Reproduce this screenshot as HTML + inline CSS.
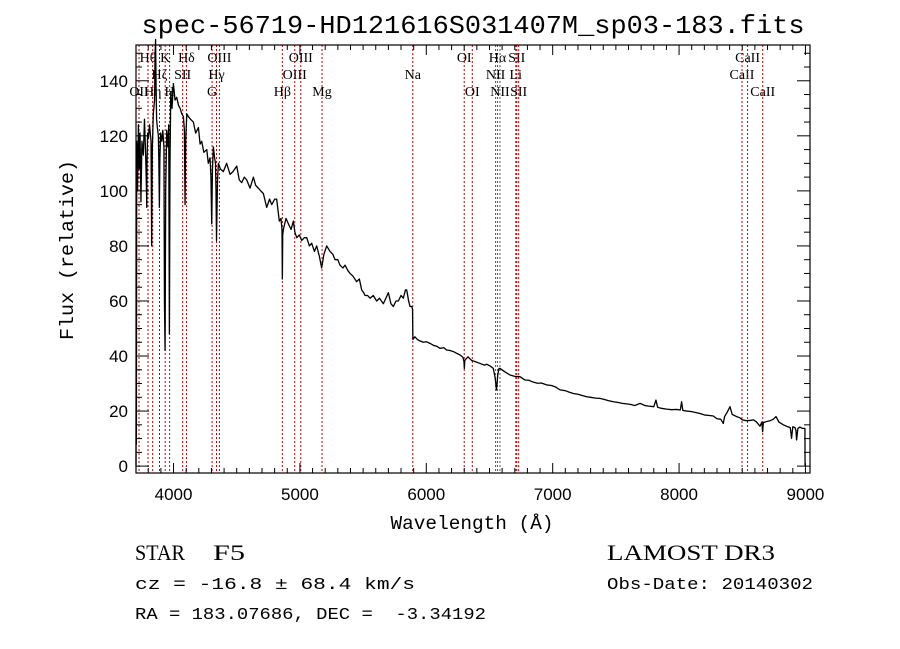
<!DOCTYPE html>
<html><head><meta charset="utf-8"><style>
body{margin:0;background:#fff;}
svg{display:block;font-family:"Liberation Sans",sans-serif;}
text{white-space:pre;}
</style></head><body>
<svg id="chart" width="900" height="649" viewBox="0 0 900 649" xmlns="http://www.w3.org/2000/svg">
<rect width="900" height="649" fill="#fff"/>
<text x="473" y="33" font-family="Liberation Mono, monospace" font-size="26" text-anchor="middle" textLength="663" lengthAdjust="spacingAndGlyphs">spec-56719-HD121616S031407M_sp03-183.fits</text>
<g id="lines"></g>
<g id="spec"></g>
<g id="axes"></g>
<text x="472" y="529" font-family="Liberation Mono, monospace" font-size="19" text-anchor="middle" textLength="163" lengthAdjust="spacingAndGlyphs">Wavelength (Å)</text>
<text transform="translate(73,250) rotate(-90)" font-family="Liberation Mono, monospace" font-size="19" text-anchor="middle" textLength="180" lengthAdjust="spacingAndGlyphs">Flux (relative)</text>
<g font-family="Liberation Serif, serif" font-size="22">
<text x="135" y="560" textLength="50" lengthAdjust="spacingAndGlyphs">STAR</text>
<text x="213" y="560" textLength="32" lengthAdjust="spacingAndGlyphs">F5</text>
<text x="607" y="560" textLength="168" lengthAdjust="spacingAndGlyphs">LAMOST DR3</text>
</g>
<g font-family="Liberation Mono, monospace" font-size="17">
<text x="135" y="589" textLength="280" lengthAdjust="spacingAndGlyphs">cz = -16.8 ± 68.4 km/s</text>
<text x="135" y="619" textLength="351" lengthAdjust="spacingAndGlyphs">RA = 183.07686, DEC =  -3.34192</text>
<text x="607" y="589" textLength="206" lengthAdjust="spacingAndGlyphs">Obs-Date: 20140302</text>
</g>
</svg>
<script>
const wavelengths=[
3703,3704,3706,3709,3715,3722,3728,3735,3742,3750,
3761,3770,3780,3786,3788,3790,3795,3801,3810,3822,
3827,3832,3840,3850,3854,3858,3862,3866,3872,3880,
3884,3888,3892,3898,3907,3915,3924,3928,3933,3938,
3946,3955,3962,3967,3972,3978,3988,3999,4012,4025,
4040,4052,4065,4078,4086,4091,4096,4105,4117,4135,
4157,4175,4197,4210,4223,4240,4263,4275,4289,4296,
4302,4308,4315,4325,4332,4336,4340,4348,4355,4370,
4394,4420,4447,4470,4500,4520,4539,4560,4579,4605,
4632,4650,4671,4690,4711,4737,4760,4777,4800,4816,
4837,4850,4858,4861,4864,4869,4890,4909,4930,4948,
4960,4975,4995,5014,5035,5054,5075,5093,5115,5133,
5155,5172,5190,5212,5238,5260,5278,5300,5317,5340,
5357,5380,5397,5420,5449,5470,5489,5505,5515,5535,
5555,5580,5607,5630,5660,5680,5700,5720,5739,5760,
5779,5800,5818,5835,5845,5860,5871,5885,5891,5894,
5910,5930,5950,5975,6000,6029,6060,6080,6108,6140,
6160,6188,6220,6240,6267,6290,6298,6301,6305,6330,
6359,6390,6425,6460,6480,6504,6530,6545,6555,6560,
6565,6575,6583,6620,6662,6700,6741,6780,6810,6847,
6880,6910,6952,6990,7020,7058,7100,7130,7163,7200,
7230,7269,7300,7340,7374,7410,7440,7480,7520,7550,
7585,7620,7650,7691,7730,7760,7800,7817,7830,7860,
7902,7940,7980,8010,8020,8030,8060,8100,8130,8165,
8200,8240,8271,8300,8330,8350,8360,8380,8403,8420,
8455,8480,8500,8534,8560,8590,8613,8640,8655,8661,
8667,8693,8720,8745,8767,8790,8825,8850,8880,8890,
8900,8917,8925,8930,8940,8956,8975,8991,8996,8997];
const fluxes=[
0,25,8,118,100,124,108,121,96,118,
113,126,112,100,94,110,121,119,124,118,
80,115,128,133,150,155,138,126,123,120,
110,94,112,121,118,122,116,60,42,100,
122,116,124,48,110,136,130,139,133,134,
131,130,128,127,122,95,118,128,127,126,
125,121,123,117,118,114,115,110,112,105,
88,108,116,112,110,100,82,104,110,108,
107,110,106,107,109,104,103,105,104,101,
105,102,101,100,99,94,97,95,97,97,
89,90,86,68,84,86,90,88,86,89,
85,83,84,82,83,83,80,81,78,80,
76,72,77,80,78,77,75,75,73,72,
73,71,70,69,67,68,64,63,62,62,
61,62,60,61,59,61,63,59,58,60,
60,62,61,64,64,60,58,58,57,46,
47,46,45.5,45,45.2,44.6,43.8,43.6,42.8,43,
42.2,42,41.5,41,40.4,39.5,38,35.5,38.5,39.7,
38.4,37.9,37.3,36.7,37,36.4,35.5,32,27.7,30,
33,35.5,35.5,34.3,33.1,32.6,32.5,31.3,31.2,30.5,
30.1,30.2,29.5,29.3,28.8,27.7,27.4,26.9,26.4,26.1,
25.7,25.2,25,24.7,24.6,24.2,23.8,23.4,23.1,22.8,
22.6,22.4,22,22.8,22,21.8,21.6,24,21.4,21,
20.7,20.5,20.6,20.4,23.4,20.2,20,19.8,19.5,19.1,
18.6,18.4,18.2,17.2,17,15.5,18,19.5,21.6,18.8,
18,17.6,16.8,16.5,16.6,16.8,16,14.5,16,12.5,
15.8,16.2,16.5,17,18,16,15,14.5,14,10.1,
14.3,14,13,9.5,13.7,14.2,13.7,13.7,13.7,0];
const lineNames=["OII","Hθ","Hη","Hζ","K","H","SII","Hδ","G","Hγ","OIII","Hβ","OIII","OIII","Mg","Na","OI","OI","NII","Hα","NII","Li","SII","SII","CaII","CaII","CaII"];
const lineWaves=[3727,3798,3835,3889,3934,3969,4072,4102,4305,4340,4363,4861,4959,5007,5175,5893,6300,6364,6548,6563,6583,6708,6716,6731,8498,8542,8662];
const lineRows=[2,0,2,1,0,2,1,0,2,1,0,2,1,0,2,1,0,2,1,0,2,1,0,2,1,0,2];
const xTicks=[4000,5000,6000,7000,8000,9000];
const yTicks=[0,20,40,60,80,100,120,140];

const L=136,R=810,T=45,B=473,XMIN=3703,XMAX=9036,YMIN=-2.5,YMAX=153;
const xs=v=>L+(v-XMIN)/(XMAX-XMIN)*(R-L);
const ys=v=>B-(v-YMIN)/(YMAX-YMIN)*(B-T);
const NS="http://www.w3.org/2000/svg";
function mk(tag,attrs,parent){const e=document.createElementNS(NS,tag);for(const k in attrs)e.setAttribute(k,attrs[k]);parent.appendChild(e);return e;}

const gl=document.getElementById('lines');
lineWaves.forEach((w,i)=>{
  const x=xs(w);
  const dark=(lineNames[i]==="Hα"||lineNames[i]==="NII");
  const ln=mk('line',{x1:x,x2:x,y1:T,y2:B,stroke:dark?'#555':'#c00000','stroke-width':1,'stroke-dasharray':'2,2'},gl);
  
  
  const t=mk('text',{x:x,y:62+lineRows[i]*17,'text-anchor':'middle','font-family':'Liberation Serif, serif','font-size':14},gl);
  t.textContent=lineNames[i];
  
  
});

const gs=document.getElementById('spec');
let d='';
const n=Math.min(wavelengths.length,fluxes.length);
for(let i=0;i<n;i++){d+=(i?'L':'M')+xs(wavelengths[i]).toFixed(2)+','+ys(fluxes[i]).toFixed(2);}
const p=mk('path',{d:d,fill:'none',stroke:'#000','stroke-width':1.3,'stroke-linejoin':'round'},gs);



const ga=document.getElementById('axes');
const fr=mk('rect',{x:L,y:T,width:R-L,height:B-T,fill:'none',stroke:'#000','stroke-width':1.2},ga);


for(let v=3800;v<=9000;v+=100){
  const x=xs(v),big=v%1000===0,h=big?10:5;
  mk('line',{x1:x,x2:x,y1:B,y2:B-h,stroke:'#000'},ga);
  mk('line',{x1:x,x2:x,y1:T,y2:T+h,stroke:'#000'},ga);
}
xTicks.forEach(v=>{
  const t=mk('text',{x:xs(v),y:500,'text-anchor':'middle','font-size':17},ga);
  t.textContent=v;
  
  
});
for(let v=0;v<=150;v+=5){
  const y=ys(v),big=v%20===0,h=big?13:6;
  mk('line',{x1:L,x2:L+h,y1:y,y2:y,stroke:'#000'},ga);
  mk('line',{x1:R,x2:R-h,y1:y,y2:y,stroke:'#000'},ga);
}
yTicks.forEach(v=>{
  const t=mk('text',{x:128,y:ys(v)+6,'text-anchor':'end','font-size':17},ga);
  t.textContent=v;
  
  
});
</script>
</body></html>
